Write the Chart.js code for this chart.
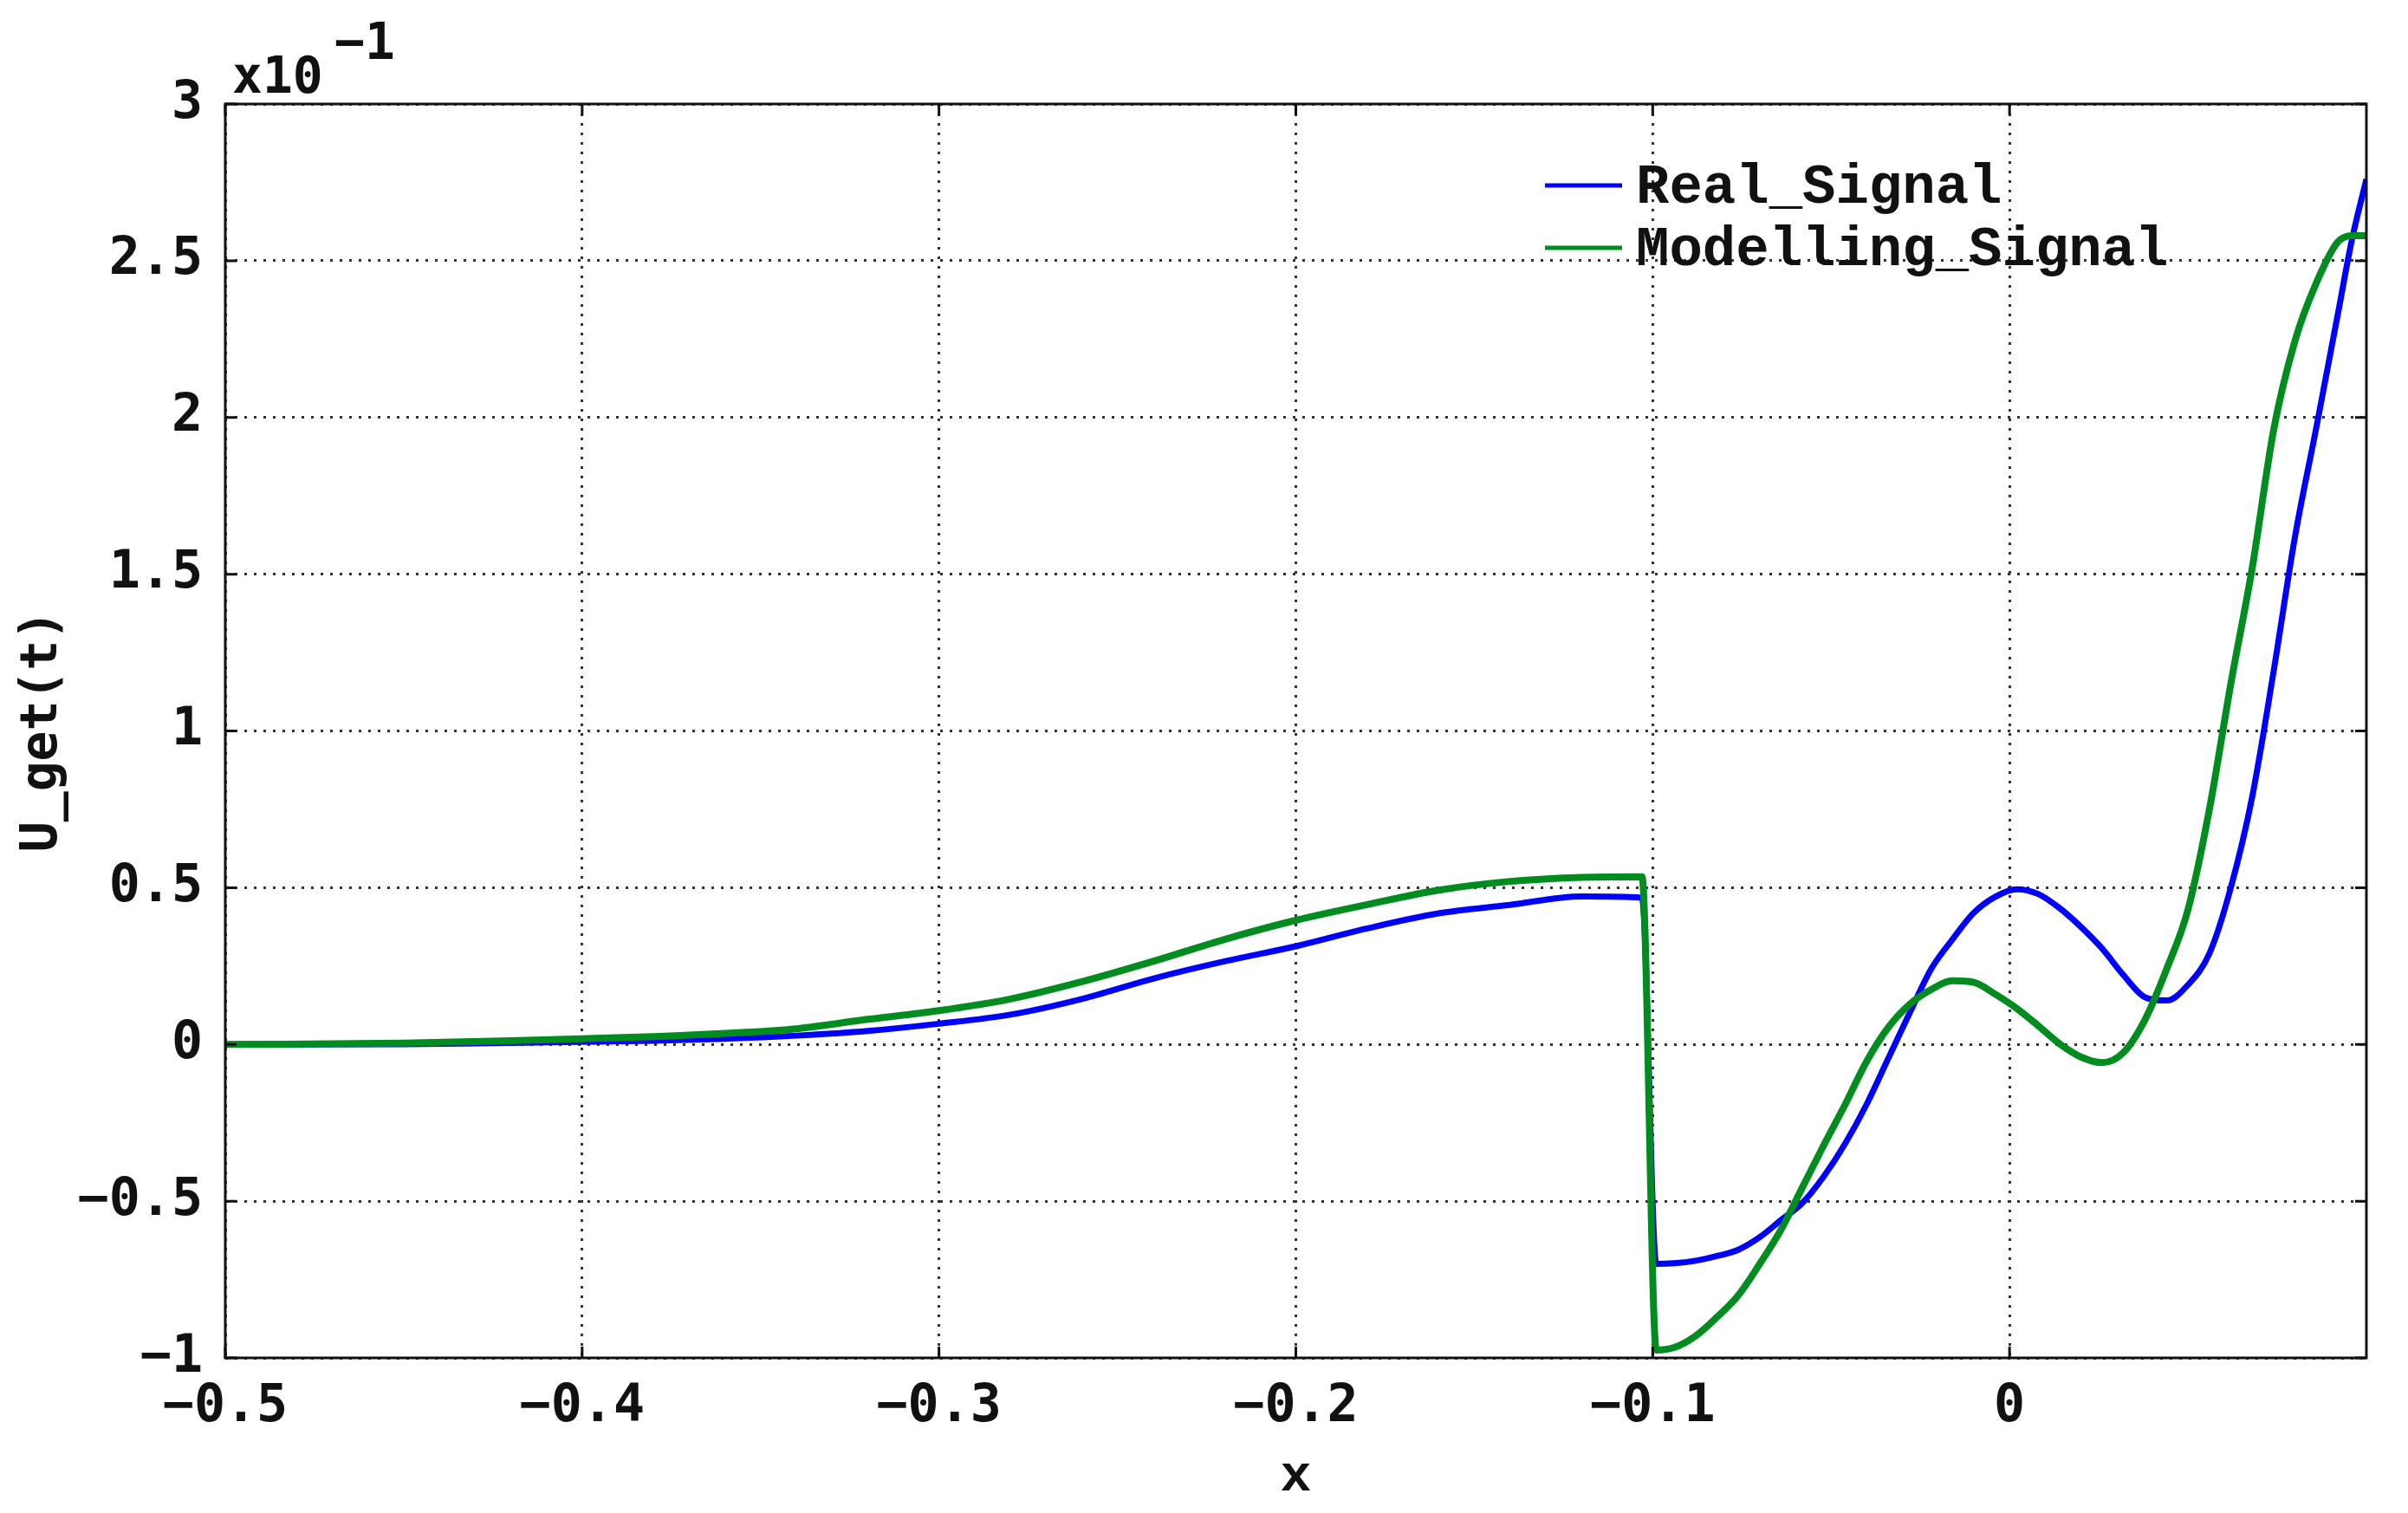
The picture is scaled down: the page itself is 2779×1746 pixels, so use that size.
<!DOCTYPE html>
<html>
<head>
<meta charset="utf-8">
<title>U_get(t)</title>
<script src="https://cdn.jsdelivr.net/npm/chart.js@4.4.1/dist/chart.umd.min.js"></script>
<style>
  html, body { margin: 0; padding: 0; background: #fff; }
  #chart { display: block; }
</style>
</head>
<body>
<canvas id="chart" width="2779" height="1746"></canvas>
<script>
// Sample positions on the x axis, shared by both signals
const xValues = [
    -0.5, -0.45, -0.42, -0.4, -0.38, -0.36, -0.34, -0.32, -0.30, -0.28,
    -0.26, -0.24, -0.22, -0.20, -0.18, -0.16, -0.14, -0.12, -0.103, -0.099,
    -0.094, -0.088, -0.082, -0.076, -0.07, -0.064, -0.058, -0.052, -0.046, -0.04,
    -0.034, -0.028, -0.022, -0.016, -0.01, -0.004, 0.002, 0.008, 0.014, 0.02,
    0.026, 0.032, 0.038, 0.044, 0.05, 0.056, 0.062, 0.068, 0.074, 0.08,
    0.086, 0.092, 0.096, 0.1
];

// Signal values, in units of 1e-1 (as on the axis)
const realSignal = [
    0.0, 0.001, 0.005, 0.008, 0.012, 0.018, 0.028, 0.043, 0.066, 0.095,
    0.145, 0.21, 0.265, 0.313, 0.37, 0.418, 0.445, 0.472, 0.468, -0.70,
    -0.698, -0.69, -0.675, -0.655, -0.615, -0.56, -0.505, -0.42, -0.315, -0.19,
    -0.045, 0.10, 0.24, 0.335, 0.42, 0.471, 0.495, 0.48, 0.435, 0.375,
    0.305, 0.22, 0.15, 0.14, 0.19, 0.29, 0.50, 0.79, 1.19, 1.62,
    1.97, 2.33, 2.57, 2.76
];

const modellingSignal = [
    0.0, 0.004, 0.012, 0.018, 0.025, 0.035, 0.05, 0.08, 0.108, 0.145,
    0.20, 0.265, 0.335, 0.396, 0.446, 0.492, 0.52, 0.533, 0.535, -0.975,
    -0.967, -0.93, -0.87, -0.80, -0.70, -0.59, -0.455, -0.32, -0.19, -0.053,
    0.054, 0.128, 0.175, 0.203, 0.198, 0.16, 0.115, 0.06, 0.002, -0.04,
    -0.058, -0.025, 0.08, 0.24, 0.43, 0.75, 1.15, 1.52, 1.96, 2.245,
    2.43, 2.56, 2.58, 2.58
];

// Axis ticks
const xTicks = [-0.5, -0.4, -0.3, -0.2, -0.1, 0];
const yTicks = [-1, -0.5, 0, 0.5, 1, 1.5, 2, 2.5, 3];

const seriesNames = ['Real_Signal', 'Modelling_Signal'];
const seriesColors = ['#0000ff', '#008c1e'];

const tickFont = { family: '"DejaVu Sans Mono", monospace', size: 60, weight: 'bold' };

function formatTick(v) {
    const r = Math.round(v * 10) / 10;
    if (r === 0) return '0';
    return String(r).replace('-', '\u2212');
}

function toPoints(ys) {
    return xValues.map((x, i) => ({ x: x, y: ys[i] }));
}

// Box, inward ticks, exponent and legend
const framePlugin = {
    id: 'frame',
    afterDatasetsDraw(chart) {
        const { ctx, chartArea: a, scales } = chart;
        ctx.save();
        ctx.strokeStyle = '#111';
        ctx.lineWidth = 3;
        ctx.beginPath();
        scales.x.ticks.forEach(t => {
            const px = scales.x.getPixelForValue(t.value);
            ctx.moveTo(px, a.bottom); ctx.lineTo(px, a.bottom - 13);
            ctx.moveTo(px, a.top); ctx.lineTo(px, a.top + 13);
        });
        scales.y.ticks.forEach(t => {
            const py = scales.y.getPixelForValue(t.value);
            ctx.moveTo(a.left, py); ctx.lineTo(a.left + 13, py);
            ctx.moveTo(a.right, py); ctx.lineTo(a.right - 13, py);
        });
        ctx.stroke();
        ctx.strokeRect(a.left, a.top, a.right - a.left, a.bottom - a.top);

        // x10^-1 exponent
        ctx.fillStyle = '#111';
        ctx.textBaseline = 'alphabetic';
        ctx.textAlign = 'left';
        ctx.font = 'bold 58px "DejaVu Sans Mono", monospace';
        ctx.fillText('x10', a.left + 8, a.top - 13);
        ctx.fillText('\u22121', a.left + 126, a.top - 52);

        // legend
        ctx.font = 'bold 64px "Liberation Mono", monospace';
        chart.data.datasets.forEach((ds, i) => {
            const y = a.top + 94 + i * 72;
            ctx.strokeStyle = ds.borderColor;
            ctx.lineWidth = 5;
            ctx.beginPath();
            ctx.moveTo(a.left + 1523, y);
            ctx.lineTo(a.left + 1612, y);
            ctx.stroke();
            ctx.fillStyle = '#111';
            ctx.fillText(ds.label, a.left + 1628, y + 20);
        });
        ctx.restore();
    }
};

const ctx = document.getElementById('chart').getContext('2d');
new Chart(ctx, {
    type: 'line',
    data: {
        datasets: [
            {
                label: seriesNames[0],
                data: toPoints(realSignal),
                borderColor: seriesColors[0],
                borderWidth: 7,
                order: 1
            },
            {
                label: seriesNames[1],
                data: toPoints(modellingSignal),
                borderColor: seriesColors[1],
                borderWidth: 8,
                order: 0
            }
        ]
    },
    options: {
        responsive: false,
        animation: false,
        events: [],
        layout: { padding: { top: 120, right: 48, left: 0, bottom: 0 } },
        elements: {
            point: { radius: 0 },
            line: { cubicInterpolationMode: 'monotone', fill: false }
        },
        plugins: {
            legend: { display: false },
            tooltip: { enabled: false }
        },
        scales: {
            x: {
                type: 'linear',
                min: -0.5,
                max: 0.1,
                afterBuildTicks: scale => { scale.ticks = xTicks.map(v => ({ value: v })); },
                afterFit: scale => { scale.height = 179; },
                ticks: {
                    autoSkip: false,
                    maxRotation: 0,
                    padding: 21,
                    color: '#111',
                    font: tickFont,
                    callback: v => formatTick(v)
                },
                grid: { color: '#333', lineWidth: 3, drawTicks: false },
                border: { display: false, dash: [3, 8] },
                title: {
                    display: true,
                    text: 'x',
                    color: '#111',
                    font: { family: '"Liberation Mono", monospace', size: 60, weight: 'bold' },
                    padding: { top: 0, bottom: 5 }
                }
            },
            y: {
                type: 'linear',
                min: -1,
                max: 3,
                afterBuildTicks: scale => { scale.ticks = yTicks.map(v => ({ value: v })); },
                afterFit: scale => { scale.width = 260; },
                ticks: {
                    padding: 26,
                    color: '#111',
                    font: tickFont,
                    callback: v => formatTick(v)
                },
                grid: { color: '#333', lineWidth: 3, drawTicks: false },
                border: { display: false, dash: [3, 8] },
                title: {
                    display: true,
                    text: 'U_get(t)',
                    color: '#111',
                    font: { family: '"DejaVu Sans Mono", monospace', size: 58, weight: 'bold' },
                    padding: { top: 15, bottom: 0 }
                }
            }
        }
    },
    plugins: [framePlugin]
});
</script>
</body>
</html>
